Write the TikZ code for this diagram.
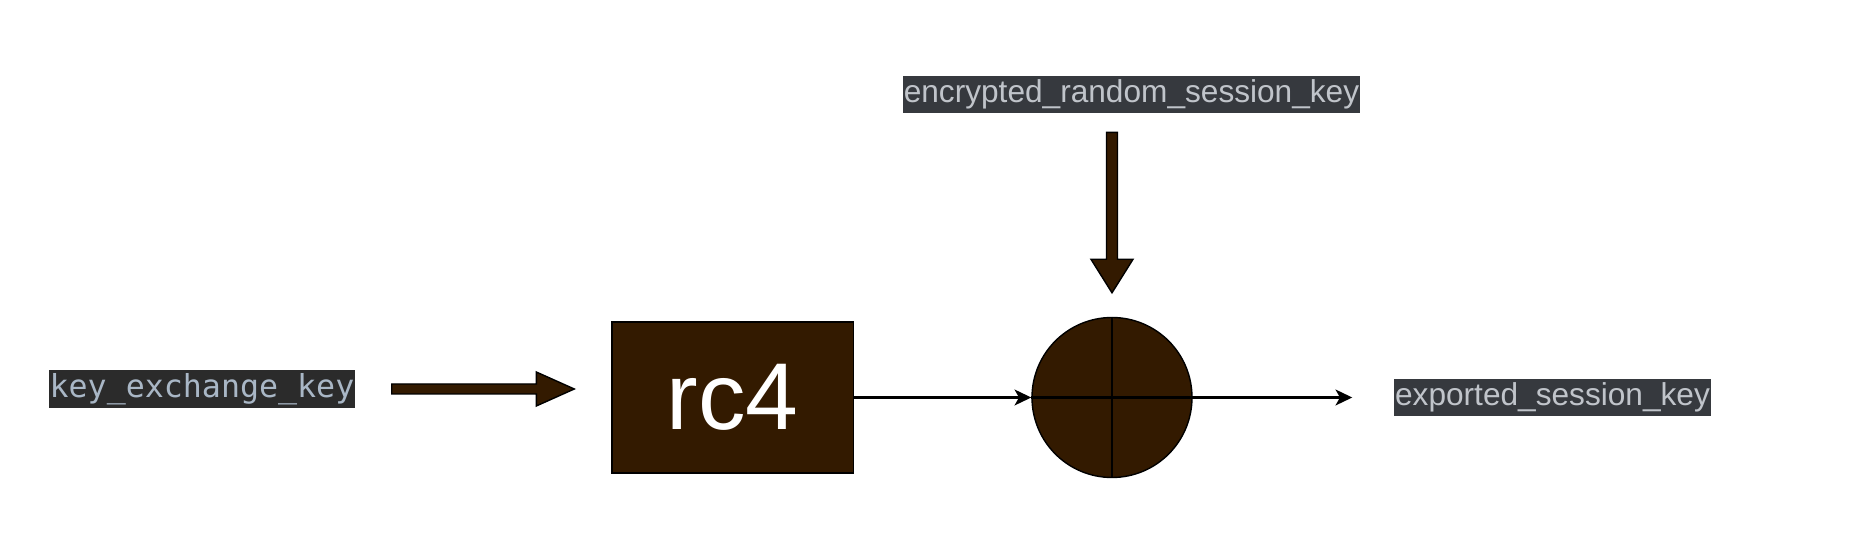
\documentclass[tikz,border=0pt]{standalone}
\usepackage{fontspec}
\setmainfont{Liberation Sans}
\newfontfamily\monofont{DejaVu Sans Mono}
\usepackage{xcolor}
\definecolor{rcbrown}{RGB}{51,26,0}
\definecolor{lblbg}{RGB}{54,57,62}
\definecolor{lbltxt}{RGB}{192,196,202}
\definecolor{monobg}{RGB}{43,43,43}
\definecolor{monotxt}{RGB}{169,183,198}
\usepackage{tikz}
\usetikzlibrary{positioning,arrows.meta,calc}

\begin{document}
\begin{tikzpicture}[
  font=\fontsize{18}{21}\selectfont,
  lbl/.style={fill=lblbg, text=lbltxt, inner xsep=0.02cm, inner ysep=0pt, minimum height=0.74cm},
  box/.style={draw=black, line width=0.8pt, fill=rcbrown, text=white, inner sep=0pt},
  arrow/.style={-{Stealth[length=9.5pt, width=9pt, inset=2.5pt]}, line width=1.4pt},
  fatarr/.style={draw=black, line width=0.8pt, fill=rcbrown, line join=miter}]

  \useasboundingbox (0,0) rectangle (37.28,-10.72);

  % --- inputs ---
  \node[lbl, fill=monobg, text=monotxt, font=\monofont\fontsize{18}{21}\selectfont,
        minimum height=0.76cm] (kek) at (4.04,-7.78) {key\_exchange\_key};
  \node[lbl] (erk) at (22.63,-1.89) {encrypted\_random\_session\_key};

  % --- rc4 and xor ---
  \node[box, minimum width=4.83cm, minimum height=3.02cm,
        font=\fontsize{54}{60}\selectfont] (rc4) at (14.655,-7.95) {rc4};
  \node[box, circle, minimum size=3.2cm] (circ) at (22.24,-7.95) {};
  \draw[line width=1.2pt] (circ.north) -- (circ.south);
  \draw[line width=1.2pt] (circ.west) -- (circ.east);

  % --- output ---
  \node[lbl] (esk) at (31.05,-7.95) {exported\_session\_key};

  % --- end points of the arrows ---
  \coordinate (kekout) at ([xshift=0.72cm]kek.east);
  \coordinate (rcin)   at ([xshift=-0.74cm]rc4.west |- kek.east);
  \coordinate (erkout) at ([yshift=-0.38cm]erk.south -| circ.north);
  \coordinate (circin) at ([yshift=0.48cm]circ.north);
  \coordinate (eskin)  at ([xshift=-0.83cm]esk.west |- circ.east);

  % --- flows ---
  \draw[fatarr] let \p1=(kekout), \p2=(rcin) in
    (\x1,\y1+0.1cm) -- (\x2-0.76cm,\y1+0.1cm) -- (\x2-0.76cm,\y1+0.34cm) -- (\p2)
    -- (\x2-0.76cm,\y1-0.34cm) -- (\x2-0.76cm,\y1-0.1cm) -- (\x1,\y1-0.1cm) -- cycle;
  \draw[fatarr] let \p1=(erkout), \p2=(circin) in
    (\x1-0.11cm,\y1) -- (\x1-0.11cm,\y2+0.67cm) -- (\x1-0.42cm,\y2+0.67cm) -- (\p2)
    -- (\x1+0.42cm,\y2+0.67cm) -- (\x1+0.11cm,\y2+0.67cm) -- (\x1+0.11cm,\y1) -- cycle;
  \draw[arrow] (rc4.east) -- (circ.west);
  \draw[arrow] (circ.east) -- (eskin);
\end{tikzpicture}
\end{document}
